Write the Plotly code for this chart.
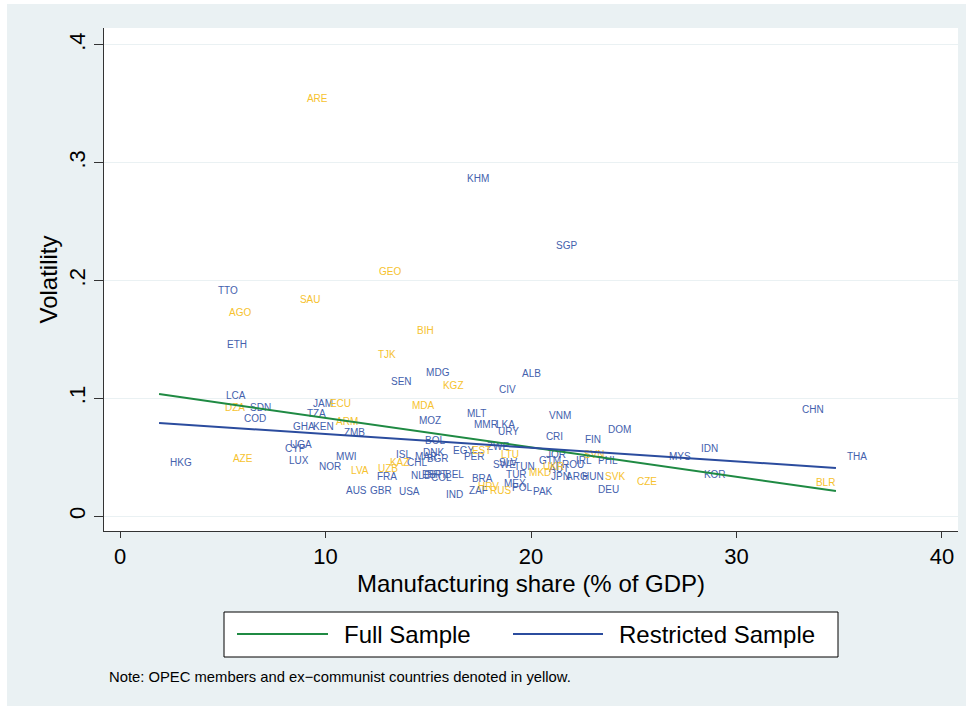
import plotly.graph_objects as go

# ---------------- data ----------------
countries = ["ARE","KHM","SGP","GEO","TTO","SAU","AGO","BIH","ETH","TJK",
             "MDG","ALB","SEN","KGZ","CIV","LCA","DZA","SDN","JAM","ECU",
             "MDA","TZA","MLT","VNM","COD","MOZ","ARM","MMR","LKA","URY",
             "DOM","GHA","KEN","ZMB","CRI","FIN","BOL","UGA","IDN","CYP",
             "EGY","EST","ZWE","JOR","SVN","LTU","ISL","MAR","DNK","BGR",
             "PER","GTM","UKR","ROU","IRL","PHL","MKD","JPN","ARG","HUN",
             "AUT","KAZ","UZB","CHL","LVA","FRA","NLD","ESP","PRT","COL",
             "BEL","AUS","GBR","USA","IND","BRA","ZAF","HRV","RUS","MEX",
             "POL","PAK","TUR","SWE","SLV","TUN","MYS","KOR","CHN","THA",
             "BLR","CZE","SVK","DEU","HKG","AZE","LUX","NOR","MWI"]
manufacturing = [8.56,16.35,20.68,12.07,4.23,8.22,4.77,13.92,4.67,12.02,
                 14.36,19.03,12.65,15.18,17.91,4.62,4.57,5.79,8.86,9.68,
                 13.67,8.56,16.35,20.34,5.50,14.01,9.98,16.69,17.76,17.86,
                 23.21,7.88,8.86,10.36,20.19,22.09,14.31,7.74,27.74,7.49,
                 15.67,16.59,17.32,20.19,22.04,18.00,12.90,13.82,14.21,14.40,
                 16.20,19.85,20.05,20.97,21.65,22.73,19.37,20.44,21.17,21.95,
                 20.34,12.60,12.02,13.43,10.71,11.97,13.63,14.16,14.40,14.60,
                 15.28,10.46,11.63,13.04,15.33,16.59,16.45,16.89,17.47,18.15,
                 18.54,19.56,18.25,17.62,17.91,18.64,26.18,27.88,32.65,34.84,
                 33.33,24.62,23.07,22.73,1.90,4.96,7.69,9.15,9.98]
volatility = [0.354,0.286,0.2285,0.207,0.191,0.1826,0.1724,0.157,0.1452,0.1359,
              0.1214,0.1206,0.1138,0.1096,0.1062,0.1011,0.0917,0.0917,0.0943,0.0943,
              0.0926,0.0866,0.0866,0.0849,0.0824,0.0807,0.0798,0.0773,0.0773,0.0713,
              0.0730,0.0756,0.0756,0.0705,0.0671,0.0645,0.0637,0.0603,0.0561,0.0561,
              0.0544,0.0544,0.0586,0.0510,0.0518,0.0510,0.0518,0.0501,0.0527,0.0476,
              0.0493,0.0467,0.0416,0.0425,0.0459,0.0459,0.0365,0.0331,0.0331,0.0331,
              0.0391,0.0442,0.0391,0.0442,0.0382,0.0331,0.0340,0.0348,0.0348,0.0323,
              0.0348,0.0212,0.0212,0.0204,0.0178,0.0314,0.0212,0.0246,0.0212,0.0272,
              0.0238,0.0204,0.0348,0.0433,0.0442,0.0416,0.0493,0.0348,0.0900,0.0501,
              0.0280,0.0289,0.0331,0.0221,0.0442,0.0476,0.0467,0.0416,0.0493]
# 1 = OPEC member / ex-communist (yellow label)
yellow_flag = [1,0,0,1,0,1,1,1,0,1,
               0,0,0,1,0,0,1,0,0,1,
               1,0,0,0,0,0,1,0,0,0,
               0,0,0,0,0,0,0,0,0,0,
               0,1,0,0,1,1,0,0,0,0,
               0,0,1,0,0,0,1,0,0,0,
               0,1,1,0,1,0,0,0,0,0,
               0,0,0,0,0,0,0,1,1,0,
               0,0,0,0,0,0,0,0,0,0,
               1,1,1,0,0,1,0,0,0]

fit_x = [1.90, 34.84]
fit_full = [0.1036, 0.0212]
fit_restricted = [0.0790, 0.0408]
series_names = ["Full Sample", "Restricted Sample"]

x_ticks = [0, 10, 20, 30, 40]
y_ticks = [0, 0.1, 0.2, 0.3, 0.4]
y_tick_labels = ["0", ".1", ".2", ".3", ".4"]

note_text = "Note: OPEC members and ex\u2212communist countries denoted in yellow."

# ---------------- style ----------------
BLUE_TXT = "#4461ad"
YEL_TXT = "#f6c22e"
GREEN_LINE = "#1f8a43"
BLUE_LINE = "#2b4c9e"
BG = "#eaf1f3"
FONT = "Liberation Sans, Arial, sans-serif"

W, H = 973, 710
ML, MR, MT, MB = 104, 15, 28, 179
PW, PH = W - ML - MR, H - MT - MB


def px_x(p):
    return (p - ML) / PW


def px_y(p):
    return (H - MB - p) / PH


fig = go.Figure()

groups = [(0, BLUE_TXT), (1, YEL_TXT)]
for flag, col in groups:
    idx = [i for i, f in enumerate(yellow_flag) if f == flag]
    fig.add_trace(go.Scatter(
        x=[manufacturing[i] for i in idx],
        y=[volatility[i] for i in idx],
        text=[countries[i] for i in idx],
        mode="markers+text",
        marker=dict(size=16, color="rgba(0,0,0,0)"),
        textposition="middle right",
        textfont=dict(family=FONT, size=10, color=col),
        showlegend=False,
        hoverinfo="text",
    ))

fig.add_trace(go.Scatter(x=fit_x, y=fit_full, mode="lines", name=series_names[0],
                         line=dict(color=GREEN_LINE, width=2), showlegend=False))
fig.add_trace(go.Scatter(x=fit_x, y=fit_restricted, mode="lines", name=series_names[1],
                         line=dict(color=BLUE_LINE, width=2), showlegend=False))

shapes = [
    # outer graph region
    dict(type="rect", xref="paper", yref="paper", layer="below",
         x0=px_x(7), x1=px_x(966), y0=px_y(706), y1=px_y(4),
         fillcolor=BG, line=dict(width=0)),
    # plot region
    dict(type="rect", xref="paper", yref="paper", layer="below",
         x0=0, x1=1, y0=0, y1=1, fillcolor="white", line=dict(width=0)),
    # legend box
    dict(type="rect", xref="paper", yref="paper",
         x0=px_x(224), x1=px_x(838), y0=px_y(657), y1=px_y(612),
         fillcolor="white", line=dict(color="black", width=1)),
    dict(type="line", xref="paper", yref="paper",
         x0=px_x(237), x1=px_x(328), y0=px_y(634), y1=px_y(634),
         line=dict(color=GREEN_LINE, width=2)),
    dict(type="line", xref="paper", yref="paper",
         x0=px_x(513), x1=px_x(603), y0=px_y(634), y1=px_y(634),
         line=dict(color=BLUE_LINE, width=2)),
]

annotations = [
    dict(text=series_names[0], xref="paper", yref="paper", x=px_x(342), y=px_y(634),
         xanchor="left", yanchor="middle", showarrow=False,
         font=dict(family=FONT, size=24, color="black")),
    dict(text=series_names[1], xref="paper", yref="paper", x=px_x(617), y=px_y(634),
         xanchor="left", yanchor="middle", showarrow=False,
         font=dict(family=FONT, size=24, color="black")),
    dict(text=note_text, xref="paper", yref="paper", x=px_x(107), y=px_y(677),
         xanchor="left", yanchor="middle", showarrow=False,
         font=dict(family=FONT, size=14.8, color="black")),
]

fig.update_layout(
    width=W, height=H,
    margin=dict(l=ML, r=MR, t=MT, b=MB, pad=0),
    paper_bgcolor="white",
    plot_bgcolor="white",
    shapes=shapes,
    annotations=annotations,
    showlegend=False,
    xaxis=dict(
        range=[-0.78, 40.78], tickvals=x_ticks, ticks="outside", ticklen=6,
        tickcolor="#333", tickwidth=1, showgrid=False, zeroline=False,
        showline=True, linecolor="#333", linewidth=1,
        tickfont=dict(family=FONT, size=22, color="black"),
        title=dict(text="Manufacturing share (% of GDP)",
                   font=dict(family=FONT, size=24, color="black"), standoff=6),
    ),
    yaxis=dict(
        range=[-0.0127, 0.4144], tickvals=y_ticks, ticktext=y_tick_labels,
        tickangle=-90, ticks="outside", ticklen=9, tickcolor="#333", tickwidth=1,
        ticklabelstandoff=0,
        showgrid=True, gridcolor=BG, gridwidth=1, zeroline=False,
        showline=True, linecolor="#333", linewidth=1,
        tickfont=dict(family=FONT, size=22, color="black"),
        title=dict(text="Volatility", font=dict(family=FONT, size=24, color="black"),
                   standoff=0),
    ),
)

fig.write_html("out.html",
               config={"displayModeBar": False},
               post_script="document.body.style.margin='0';document.body.style.overflow='hidden';")
